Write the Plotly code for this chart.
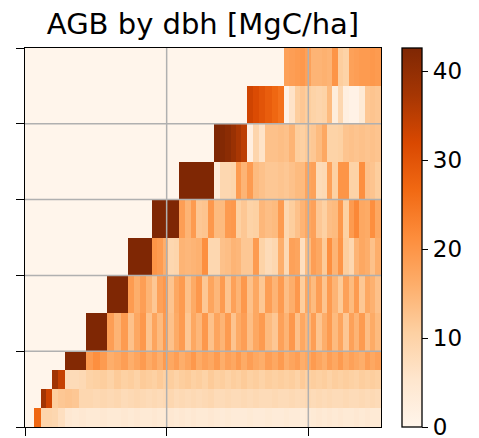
import plotly.graph_objects as go

# ---- data -------------------------------------------------------------
# column (time) edges of the heatmap, in years
year_edges = [0, 6.4, 11.1, 14.9, 18.8, 23.5, 28.2, 33.1, 38.0, 43.0,
              47.9, 52.9, 57.9, 62.8, 67.7, 72.7, 76.9, 81.1, 85.3, 89.6,
              93.4, 97.2, 101.0, 104.9, 108.7, 112.8, 116.9, 121.0, 125.2, 129.3,
              133.4, 137.3, 141.2, 145.1, 149.0, 152.8, 156.7, 161.0, 165.4, 169.7,
              174.1, 178.4, 182.8, 186.6, 190.4, 194.2, 198.0, 201.8, 205.6, 209.4,
              213.2, 217.0, 220.8, 224.6, 228.4, 232.2, 236.0, 239.8, 243.6, 247.4,
              251.3]

# dbh class edges [cm]
dbh_edges = [0, 5, 10, 15, 20, 30, 40, 50, 60, 70, 80, 90, 100]

# AGB [MgC/ha] per dbh class, one value per time column
agb_0_5 = [0, 27, 9.5, 9.5, 9, 7, 4.5, 4, 4.5, 4,
           4, 4.5, 4, 4, 4.5, 4, 4.5, 4, 4, 4.5,
           4, 4, 4.5, 4, 4.5, 4, 4.5, 4, 4, 4.5,
           4, 3.5, 4, 3.5, 3.5, 3.5, 4, 3.5, 3.5, 4,
           3.5, 3.5, 4, 3.5, 3.5, 3, 3.5, 4, 4.5, 4,
           4.5, 4, 4.5, 4, 4, 4.5, 4, 4.5, 4, 4]
agb_5_10 = [0, 0, 38, 33, 11, 12, 12.5, 12, 9, 9,
            8.5, 9, 8.5, 9, 8, 8.5, 9, 8.5, 8, 8.5,
            8, 8.5, 9, 8, 8.5, 8, 8.5, 8, 8.5, 9,
            8, 8, 8.5, 8, 8, 8.5, 8, 8.5, 8, 8,
            8.5, 8, 8, 8.5, 8, 8, 8.5, 8, 8.5, 8,
            8.5, 8, 8, 8.5, 8, 8, 8.5, 8, 8.5, 8]
agb_10_15 = [0, 0, 0, 0, 38, 34, 8, 8, 8.5, 10,
             10.5, 11, 10, 11.5, 10.5, 11, 10, 11.5, 11, 10.5,
             11.5, 10.5, 11, 10, 11, 11.5, 10.5, 11, 10, 11.5,
             10.5, 11, 10, 11, 10.5, 11.5, 10.5, 11, 10, 11,
             10.5, 11, 10.5, 11, 10, 11.5, 10.5, 11, 10.5, 11,
             10, 11, 10.5, 11, 10.5, 10, 11, 10.5, 11, 10.5]
agb_15_20 = [0, 0, 0, 0, 0, 0, 42, 42, 42, 19,
             21, 19, 16, 17, 18.5, 16, 17.5, 19, 16.5, 18,
             16, 19, 17, 18.5, 16, 17.5, 19.5, 16.5, 18, 17,
             19, 16, 18, 17, 19, 16.5, 18.5, 17, 16, 18.5,
             17, 19, 16, 17.5, 18.5, 16, 17, 19, 17.5, 16,
             18.5, 17, 19, 16.5, 18, 17, 16, 18.5, 17, 18]
agb_20_30 = [0, 0, 0, 0, 0, 0, 0, 0, 0, 43,
             43, 43, 18.5, 15, 19, 13, 17, 19.5, 12.5, 17.5,
             14, 19, 13, 16.5, 19, 12, 17, 14.5, 19.5, 13,
             17.5, 15, 19, 12.5, 16.5, 18.5, 13.5, 17, 19, 14,
             12, 18, 15, 19.5, 13, 17, 14.5, 18.5, 12.5, 16,
             19, 14, 17.5, 12, 18, 15, 19, 13.5, 16.5, 14]
agb_30_40 = [0, 0, 0, 0, 0, 0, 0, 0, 0, 0,
             0, 0, 43, 43, 43, 19, 16, 18.5, 15, 12,
             18, 19.5, 12.5, 17, 19, 13, 16.5, 19.5, 12, 17.5,
             14.5, 19, 12.5, 18, 15, 19.5, 13, 17, 12, 18.5,
             15, 19, 13.5, 16, 19.5, 11, 17, 14, 18.5, 12.5,
             19, 15, 11.5, 18, 14, 19, 12, 17, 15.5, 13]
agb_40_50 = [0, 0, 0, 0, 0, 0, 0, 0, 0, 0,
             0, 0, 0, 0, 0, 43, 43, 43, 43, 20,
             19, 16, 9, 9.5, 15, 14.5, 15, 15.5, 21, 9,
             9, 13, 13.5, 15, 14.5, 12, 12, 19, 10, 8,
             9, 16, 8.5, 18, 17.5, 7, 14, 18.5, 17, 11.5,
             21, 15, 20, 11, 9, 15, 17, 16, 13, 16]
agb_50_60 = [0, 0, 0, 0, 0, 0, 0, 0, 0, 0,
             0, 0, 0, 0, 0, 0, 0, 0, 0, 43,
             43, 43, 43, 43, 18.5, 15, 19, 12, 12.5, 19.5,
             14, 14, 19, 19.5, 10.5, 12, 10, 10.5, 14.5, 13.5,
             14, 19, 9, 11, 13, 15, 17, 18, 12, 10.5,
             13.5, 14, 19.5, 10.5, 19, 22, 17, 16.5, 21, 17]
agb_60_70 = [0, 0, 0, 0, 0, 0, 0, 0, 0, 0,
             0, 0, 0, 0, 0, 0, 0, 0, 0, 0,
             0, 0, 0, 0, 43, 43, 43, 43, 43, 43,
             3, 9, 9, 9.5, 19, 15, 19, 14, 13, 12,
             12, 12.5, 12, 13, 14, 14, 17.5, 18, 8, 8.5,
             18, 10.5, 20, 20, 10, 10, 21, 13, 12.5, 11]
agb_70_80 = [0, 0, 0, 0, 0, 0, 0, 0, 0, 0,
             0, 0, 0, 0, 0, 0, 0, 0, 0, 0,
             0, 0, 0, 0, 0, 0, 0, 0, 0, 0,
             43, 42, 41, 39, 37, 35, 2, 9.5, 6, 13,
             13, 13.5, 13, 15, 11, 10.5, 11.5, 12, 14, 17,
             10, 10, 10.5, 12.5, 13, 12.5, 13, 12.5, 13, 12.5]
agb_80_90 = [0, 0, 0, 0, 0, 0, 0, 0, 0, 0,
             0, 0, 0, 0, 0, 0, 0, 0, 0, 0,
             0, 0, 0, 0, 0, 0, 0, 0, 0, 0,
             0, 0, 0, 0, 0, 0, 33, 31.5, 30, 28.5,
             27, 25.5, 1, 6, 11, 12, 11, 10, 9.5, 10,
             14, 3, 9, 2, 1, 1, 4, 12, 12.5, 12]
agb_90_100 = [0, 0, 0, 0, 0, 0, 0, 0, 0, 0,
              0, 0, 0, 0, 0, 0, 0, 0, 0, 0,
              0, 0, 0, 0, 0, 0, 0, 0, 0, 0,
              0, 0, 0, 0, 0, 0, 0, 0, 0, 0,
              0, 0, 18, 18.5, 19, 19.5, 18, 15, 15, 15.5,
              15, 20, 11, 10, 18, 18.5, 19, 19, 19.5, 19]

x_tick_vals = [0, 100, 200]
y_tick_vals = [0, 20, 40, 60, 80, 100]
cbar_tick_vals = [0, 10, 20, 30, 40]
z_max = 42.6

# ---- figure -----------------------------------------------------------
oranges = [[0.0, '#fff5eb'], [0.125, '#fee6ce'], [0.25, '#fdd0a2'],
           [0.375, '#fdae6b'], [0.5, '#fd8d3c'], [0.625, '#f16913'],
           [0.75, '#d94801'], [0.875, '#a63603'], [1.0, '#7f2704']]

z = [agb_0_5, agb_5_10, agb_10_15, agb_15_20, agb_20_30, agb_30_40,
     agb_40_50, agb_50_60, agb_60_70, agb_70_80, agb_80_90, agb_90_100]

FONT = 'DejaVu Sans'

fig = go.Figure(go.Heatmap(
    x=year_edges, y=dbh_edges, z=z,
    zmin=0, zmax=z_max, colorscale=oranges, zsmooth=False,
    hoverinfo='skip',
    colorbar=dict(
        x=1.059, xanchor='left', y=0.5, yanchor='middle',
        len=1, lenmode='fraction', thickness=20, thicknessmode='pixels',
        xpad=0, ypad=0,
        outlinewidth=1.3, outlinecolor='black',
        ticks='outside', ticklen=6, tickwidth=1.3, tickcolor='black',
        tickvals=cbar_tick_vals, ticklabeloverflow='allow',
        tickfont=dict(family=FONT, size=23, color='black'),
    ),
))

axis_common = dict(
    showticklabels=False, ticks='outside', ticklen=8, tickwidth=1.3,
    tickcolor='black', showgrid=False, zeroline=False, showline=True,
    linecolor='black', linewidth=1.3, mirror=True, layer='above traces',
    automargin=False,
)

fig.update_layout(
    template='none',
    width=479, height=438,
    margin=dict(l=25, r=98, t=48, b=11, pad=0, autoexpand=False),
    paper_bgcolor='white', plot_bgcolor='white',
    title=dict(text='AGB by dbh [MgC/ha]',
               font=dict(family=FONT, size=29, color='black'),
               x=0.5, xref='paper', xanchor='center',
               y=1 - 24 / 438, yref='container', yanchor='middle'),
    xaxis=dict(range=[year_edges[0], year_edges[-1]], tickvals=x_tick_vals, **axis_common),
    yaxis=dict(range=[dbh_edges[0], dbh_edges[-1]], tickvals=y_tick_vals, **axis_common),
)

# grid lines drawn on top of the heatmap (as in the reference)
grid_style = dict(color='#b0b0b0', width=1.5)
for v in x_tick_vals:
    if year_edges[0] < v < year_edges[-1]:
        fig.add_shape(type='line', xref='x', yref='paper', x0=v, x1=v, y0=0, y1=1,
                      line=grid_style, layer='above')
for v in y_tick_vals:
    if dbh_edges[0] < v < dbh_edges[-1]:
        fig.add_shape(type='line', xref='paper', yref='y', x0=0, x1=1, y0=v, y1=v,
                      line=grid_style, layer='above')

fig.write_html('out.html')
